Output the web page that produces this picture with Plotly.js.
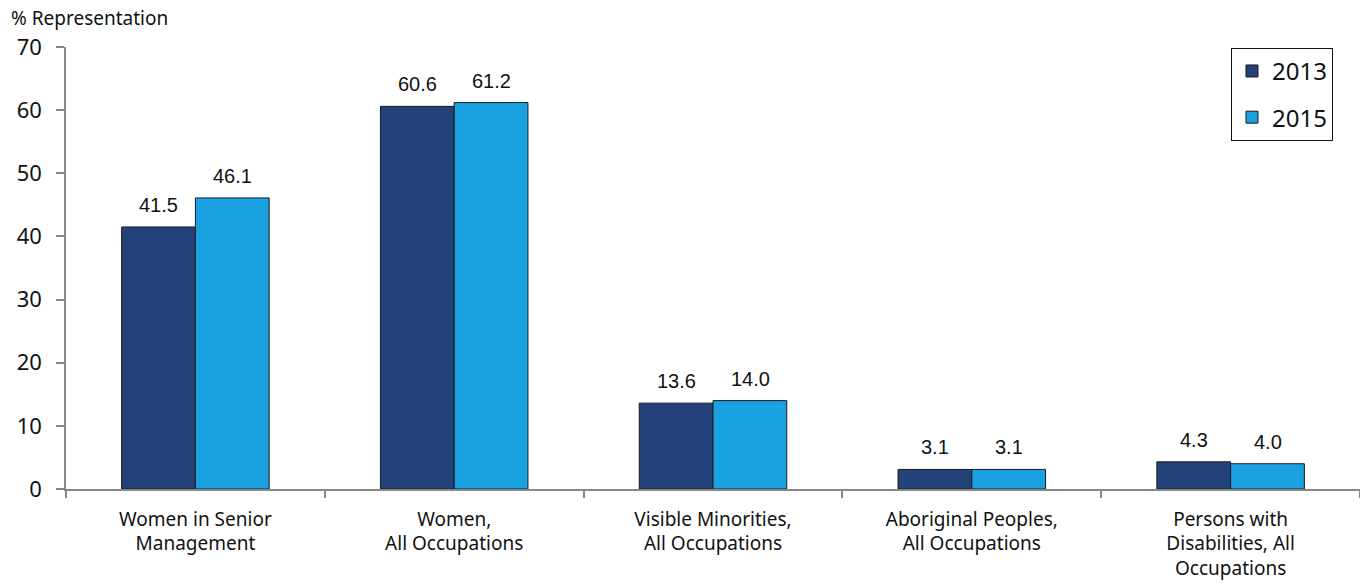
<!DOCTYPE html>
<html><head><meta charset="utf-8">
<script src="https://cdn.plot.ly/plotly-3.0.1.min.js"></script>
<style>body{margin:0;background:#fff}#chart{width:1360px;height:586px}</style>
</head><body><div id="chart"></div>
<script>
const categories = ["Women in Senior<br>Management","Women,<br>All Occupations","Visible Minorities,<br>All Occupations","Aboriginal Peoples,<br>All Occupations","Persons with<br>Disabilities, All<br>Occupations"];
const values2013 = [41.5, 60.6, 13.6, 3.1, 4.3];
const values2015 = [46.1, 61.2, 14.0, 3.1, 4.0];
const yTicks = [0,10,20,30,40,50,60,70];

const data = [
  {type:'bar', name:'2013', legendgroup:'a', x:categories, y:values2013,
    marker:{color:'#23427A', line:{color:'#1a1a1a', width:1}}},
  {type:'bar', name:'2015', legendgroup:'b', x:categories, y:values2015,
    marker:{color:'#1AA1E2', line:{color:'#1a1a1a', width:1}}}
];
const valueLabels = [];
[[values2013,-37],[values2015,37]].forEach(([vals,dx])=>{
  vals.forEach((v,i)=>valueLabels.push({xref:'x', yref:'y', x:categories[i], y:v, xshift:dx, yshift:9,
    xanchor:'center', yanchor:'bottom', showarrow:false, text:v.toFixed(1),
    font:{family:'Liberation Sans, Arial', size:20, color:'#111'}}));
});
const layout = {
  width:1360, height:586,
  margin:{l:66, r:0, t:47, b:97},
  paper_bgcolor:'#fff', plot_bgcolor:'#fff',
  barmode:'group', bargap:0.43, bargroupgap:0,
  font:{family:'Noto Sans, Open Sans', color:'#111'},
  xaxis:{type:'category', range:[-0.5,4.5], showline:true, linecolor:'#888', linewidth:1.5,
    ticks:'outside', tickson:'boundaries', ticklen:7, tickcolor:'#888', tickwidth:1.5, ticklabelstandoff:12,
    tickfont:{size:19, color:'#111'}, showgrid:false, zeroline:false},
  yaxis:{range:[0,70], tickvals:yTicks, showline:true, linecolor:'#888', linewidth:1.5,
    ticks:'outside', ticklen:8, tickcolor:'#888', tickwidth:1.5, ticklabelstandoff:10,
    tickfont:{size:22, color:'#111'}, showgrid:false, zeroline:false},
  showlegend:true,
  legend:{x:0.9003, y:0.998, xanchor:'left', yanchor:'top', bordercolor:'#111', borderwidth:1,
    font:{size:24, color:'#111'}, itemwidth:30, tracegroupgap:12, bgcolor:'#fff'},
  shapes:[{type:'line', xref:'paper', yref:'y', x0:-0.0062, x1:0, y0:0, y1:0, line:{color:'#888', width:1.5}}],
  annotations:[{xref:'paper', yref:'paper', x:-0.0441, y:1.066, xanchor:'left', yanchor:'middle',
    text:'% Representation', showarrow:false, font:{size:19, color:'#111'}}].concat(valueLabels)
};
Plotly.newPlot('chart', data, layout, {displayModeBar:false});
</script></body></html>
